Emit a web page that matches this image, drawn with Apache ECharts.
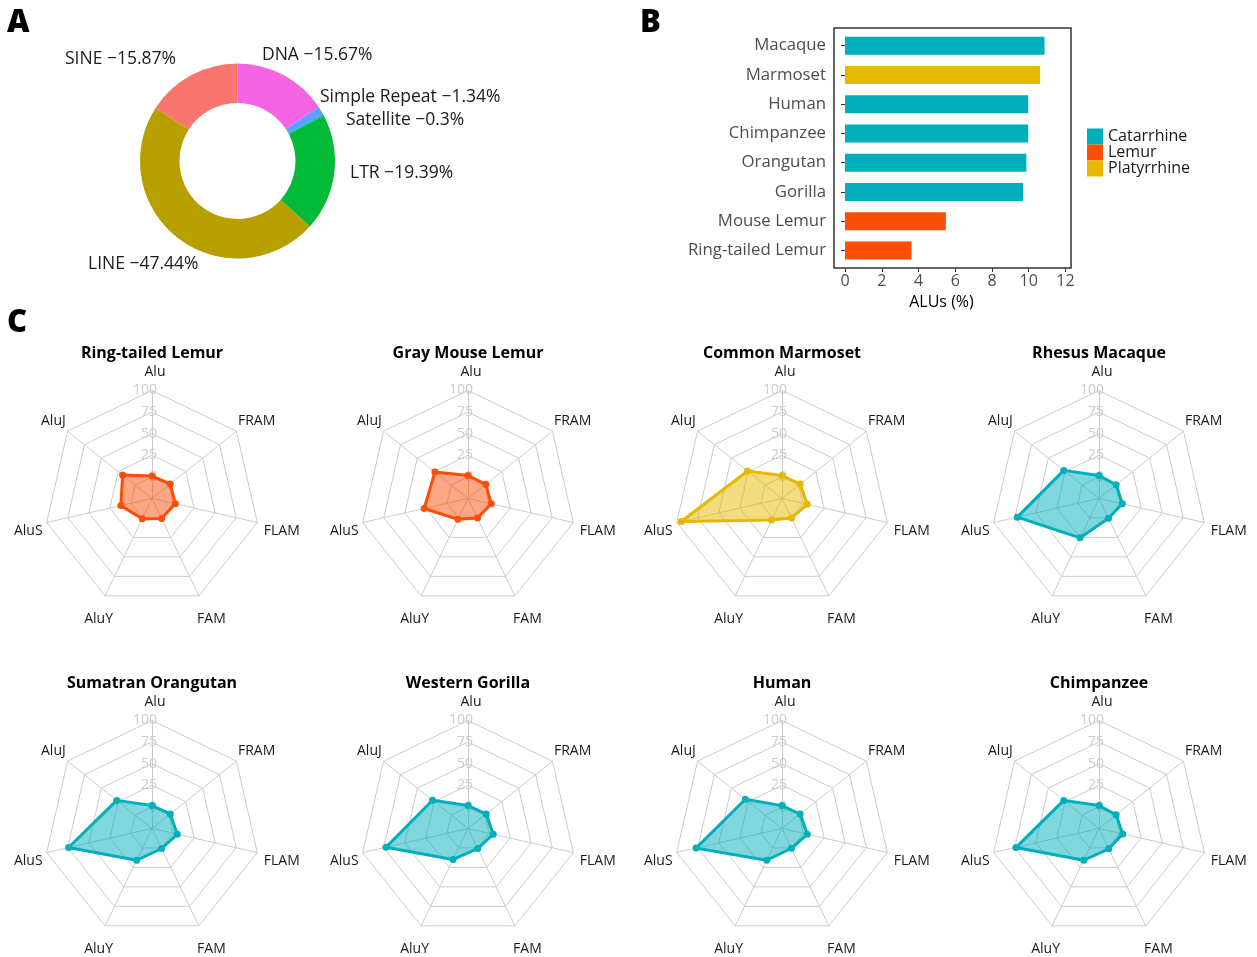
<!DOCTYPE html>
<html><head><meta charset="utf-8">
<script src="https://cdn.jsdelivr.net/npm/echarts@6/dist/echarts.min.js"></script>
<style>html,body{margin:0;padding:0;background:#fff}#c{width:1257px;height:957px}</style>
</head><body><div id="c"></div>
<script>
// ---------- Data ----------
const pieNames = ['DNA', 'Simple Repeat', 'Satellite', 'LTR', 'LINE', 'SINE'];
const piePercents = [15.67, 1.34, 0.3, 19.39, 47.44, 15.87];
const pieColors = ['#F564E3', '#619CFF', '#00BFC4', '#00BA38', '#B79F00', '#F8766D'];

const barCategories = ['Macaque', 'Marmoset', 'Human', 'Chimpanzee', 'Orangutan', 'Gorilla', 'Mouse Lemur', 'Ring-tailed Lemur'];
const barValues = [10.86, 10.62, 9.97, 9.97, 9.87, 9.69, 5.49, 3.62];
const barGroups = ['Catarrhine', 'Platyrrhine', 'Catarrhine', 'Catarrhine', 'Catarrhine', 'Catarrhine', 'Lemur', 'Lemur'];
const groupNames = ['Catarrhine', 'Lemur', 'Platyrrhine'];
const groupColors = ['#00AFBB', '#FC4E07', '#E7B800'];
const barTicks = [0, 2, 4, 6, 8, 10, 12];

const radarAxes = ['Alu', 'AluJ', 'AluS', 'AluY', 'FAM', 'FLAM', 'FRAM'];
const radarTicks = [0, 25, 50, 75, 100];
const species = ['Ring-tailed Lemur', 'Gray Mouse Lemur', 'Common Marmoset', 'Rhesus Macaque',
                 'Sumatran Orangutan', 'Western Gorilla', 'Human', 'Chimpanzee'];
const speciesGroup = ['Lemur', 'Lemur', 'Platyrrhine', 'Catarrhine', 'Catarrhine', 'Catarrhine', 'Catarrhine', 'Catarrhine'];
// values in radarAxes order: Alu, AluJ, AluS, AluY, FAM, FLAM, FRAM
const ringTailedLemur   = [1.0, 18.5, 12.0, 1.0, 0.7, 2.7, 2.0];
const grayMouseLemur    = [1.5, 24.0, 27.0, 1.8, 0.2, 2.7, 1.3];
const commonMarmoset    = [1.5, 26.0, 94.5, 2.7, 0.2, 5.0, 1.9];
const rhesusMacaque     = [1.5, 27.2, 72.0, 25.5, 0.4, 2.7, 0.4];
const sumatranOrangutan = [1.5, 27.2, 74.0, 15.8, 0.7, 5.0, 2.0];
const westernGorilla    = [1.5, 27.5, 72.4, 14.8, 0.8, 5.0, 1.9];
const human             = [1.5, 29.3, 77.0, 15.8, 0.4, 5.0, 1.9];
const chimpanzee        = [1.5, 27.2, 73.5, 15.8, 1.1, 3.1, 0.4];
const speciesValues = [ringTailedLemur, grayMouseLemur, commonMarmoset, rhesusMacaque,
                       sumatranOrangutan, westernGorilla, human, chimpanzee];

// ---------- Layout ----------
const FONT = 'Open Sans';
const pieLabelPos = [[262, 55], [320, 97], [346, 120], [350, 173], [88, 264], [65, 59]];
const colX = [152, 468, 782, 1099];
const rowY = [498.5, 828.5];
const radarR = 108;

const chart = echarts.init(document.getElementById('c'), null, {renderer: 'canvas'});

const groupColorOf = g => groupColors[groupNames.indexOf(g)];

const letterStyle = {fontFamily: FONT, fontSize: 31, fontWeight: 800, color: '#000'};
const titles = [
  {text: 'A', left: 7, top: 8, padding: 0, textStyle: letterStyle},
  {text: 'B', left: 640, top: 8, padding: 0, textStyle: letterStyle},
  {text: 'C', left: 7, top: 308, padding: 0, textStyle: letterStyle}
];
species.forEach((s, i) => {
  titles.push({
    text: s, left: colX[i % 4], top: rowY[Math.floor(i / 4)] - 153.5, textAlign: 'center', padding: 0,
    textStyle: {fontFamily: FONT, fontSize: 16, fontWeight: 'bold', color: '#000'}
  });
});

const radars = species.map((s, i) => ({
  center: [colX[i % 4], rowY[Math.floor(i / 4)]],
  radius: radarR,
  startAngle: 90,
  splitNumber: 5,
  shape: 'polygon',
  nameGap: 22,
  axisName: {color: '#1a1a1a', fontSize: 14, fontFamily: FONT, align: 'center', verticalAlign: 'top',
             lineHeight: 7, padding: [0, 0, 0, 6]},
  splitLine: {lineStyle: {color: '#cccccc', width: 1}},
  splitArea: {show: false},
  axisLine: {lineStyle: {color: '#cccccc', width: 1}},
  axisTick: {show: false},
  axisLabel: {show: false},
  indicator: radarAxes.map((n, j) => {
    const ind = {name: n, min: -25, max: 100};
    if (j === 0) {
      ind.axisLabel = {
        show: true, color: '#cccccc', fontSize: 14, fontFamily: FONT, margin: -5,
        formatter: v => (radarTicks.indexOf(v) >= 0 ? String(v) : '')
      };
    }
    return ind;
  })
}));

const radarSeries = species.map((s, i) => {
  const c = groupColorOf(speciesGroup[i]);
  return {
    type: 'radar', radarIndex: i, symbol: 'circle', symbolSize: 7,
    lineStyle: {color: c, width: 3},
    itemStyle: {color: c},
    areaStyle: {color: c, opacity: 0.5},
    data: [{value: speciesValues[i], name: s}]
  };
});

const barSeries = groupNames.map((g, gi) => ({
  type: 'bar', name: g, stack: 'all', xAxisIndex: 1, yAxisIndex: 1,
  barWidth: 18,
  itemStyle: {color: groupColors[gi]},
  data: barValues.map((v, k) => (barGroups[k] === g ? v : null))
}));

const option = {
  animation: false,
  backgroundColor: '#fff',
  textStyle: {fontFamily: FONT},
  title: titles,
  legend: {
    data: groupNames, orient: 'vertical', left: 1087, top: 128.5, padding: 0,
    itemWidth: 16, itemHeight: 16, itemGap: 0, icon: 'rect', selectedMode: false,
    textStyle: {fontFamily: FONT, fontSize: 16, color: '#1a1a1a', lineHeight: 16}
  },
  grid: [
    {left: 834, top: 28, width: 237, height: 240, show: true, borderColor: '#333', borderWidth: 1.5, backgroundColor: 'transparent'},
    {left: 834, top: 31, width: 237, height: 234}
  ],
  xAxis: [
    {type: 'value', gridIndex: 0, min: -0.6, max: 12.3,
     axisLine: {show: false}, splitLine: {show: false},
     axisTick: {show: true, length: 4, lineStyle: {color: '#333'}, customValues: barTicks},
     axisLabel: {fontSize: 16, color: '#4d4d4d', margin: 5, fontFamily: FONT, customValues: barTicks},
     name: 'ALUs (%)', nameLocation: 'middle', nameGap: 26,
     nameTextStyle: {fontSize: 16, color: '#000', fontFamily: FONT, padding: [0, 22, 0, 0]}},
    {type: 'value', gridIndex: 1, min: -0.6, max: 12.3, show: false}
  ],
  yAxis: [
    {type: 'value', gridIndex: 0, show: false},
    {type: 'category', gridIndex: 1, data: barCategories, inverse: true,
     axisLine: {show: false},
     axisTick: {show: true, length: 4, alignWithLabel: true, lineStyle: {color: '#333'}},
     axisLabel: {fontSize: 16.8, color: '#4d4d4d', margin: 8, fontFamily: FONT, padding: [6, 0, 0, 0]}}
  ],
  radar: radars,
  series: [
    {
      type: 'pie', center: [237.5, 161], radius: [58, 97.5], startAngle: 90, clockwise: true,
      silent: true,
      itemStyle: {borderWidth: 0},
      label: {show: true, position: 'outside', formatter: p => p.name + ' \u2212' + p.value + '%',
              fontSize: 17.5, color: '#1a1a1a', fontFamily: FONT},
      labelLine: {show: false},
      labelLayout: p => ({x: pieLabelPos[p.dataIndex][0], y: pieLabelPos[p.dataIndex][1], align: 'left', verticalAlign: 'middle'}),
      data: pieNames.map((n, k) => ({name: n, value: piePercents[k], itemStyle: {color: pieColors[k]}}))
    },
    ...barSeries,
    ...radarSeries
  ]
};
chart.setOption(option);
</script>
</body></html>
